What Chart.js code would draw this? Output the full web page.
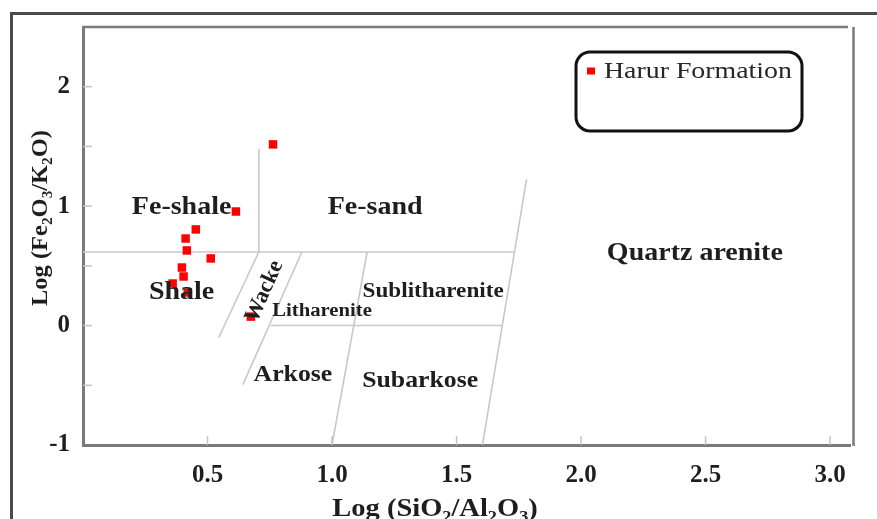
<!DOCTYPE html>
<html>
<head>
<meta charset="utf-8">
<script src="https://cdn.jsdelivr.net/npm/chart.js@4.4.1/dist/chart.umd.min.js"></script>
<style>
html,body{margin:0;padding:0;background:#ffffff;}
#wrap{width:877px;height:519px;position:relative;}
</style>
</head>
<body>
<div id="wrap"><canvas id="c" width="877" height="519"></canvas></div>
<script>
// ---------------- data ----------------
const seriesName = 'Harur Formation';
const sampleX = [0.763, 0.614, 0.453, 0.412, 0.417, 0.513, 0.397, 0.404, 0.360, 0.421, 0.674];
const sampleY = [1.517, 0.955, 0.805, 0.729, 0.629, 0.562, 0.486, 0.411, 0.352, 0.277, 0.075];

const xTickValues = [0.5, 1.0, 1.5, 2.0, 2.5, 3.0];
const xTickLabels = ['0.5', '1.0', '1.5', '2.0', '2.5', '3.0'];
const yTickValues = [-1, -0.5, 0, 0.5, 1, 1.5, 2];
const yTickLabels = ['-1', '', '0', '', '1', '', '2'];

const xTitle = 'Log (SiO₂/Al₂O₃)';
const yTitle = 'Log (Fe₂O₃/K₂O)';

// classification field boundaries (Herron 1988 diagram)
const feLineX = [0.0, 1.733];    const feLineY = [0.616, 0.616];
const feSplitX = [0.706, 0.706]; const feSplitY = [0.616, 1.48];
const quartzX = [1.781, 1.604];  const quartzY = [1.224, -1.0];
const lithX = [1.141, 1.0];      const lithY = [0.616, -1.0];
const zeroX = [0.755, 1.684];    const zeroY = [0.0, 0.0];
const wackeLX = [0.706, 0.545];  const wackeLY = [0.616, -0.10];
const wackeRX = [0.879, 0.642];  const wackeRY = [0.616, -0.495];

const regionNames = ['Fe-shale', 'Fe-sand', 'Quartz arenite', 'Shale', 'Wacke', 'Litharenite', 'Sublitharenite', 'Arkose', 'Subarkose'];
const regionX = [0.396, 1.173, 2.457, 0.396, 0.728, 0.960, 1.406, 0.843, 1.354];
const regionY = [0.985, 0.985, 0.600, 0.275, 0.285, 0.118, 0.280, -0.415, -0.465];

// ---------------- styles ----------------
const SERIF = '"Liberation Serif", "Times New Roman", "DejaVu Serif", serif';
const regionSize = [25, 25, 25, 25, 22.5, 18.5, 20.7, 23, 23];
const regionRot = [0, 0, 0, 0, -66, 0, 0, 0, 0];
const TEXT_STRETCH = 1.12;

const toPts = (xs, ys) => xs.map((v, i) => ({x: v, y: ys[i]}));
const fieldLines = [
  [feLineX, feLineY], [feSplitX, feSplitY], [quartzX, quartzY], [lithX, lithY],
  [zeroX, zeroY], [wackeLX, wackeLY], [wackeRX, wackeRY]
];

const datasets = [{
  label: seriesName,
  data: toPts(sampleX, sampleY),
  pointStyle: 'rect',
  pointRadius: 6,
  pointHoverRadius: 6,
  backgroundColor: '#ff0000',
  borderColor: '#ff0000',
  borderWidth: 0,
  showLine: false
}];
fieldLines.forEach(([xs, ys]) => {
  datasets.push({
    label: '',
    data: toPts(xs, ys),
    showLine: true,
    pointRadius: 0,
    borderColor: '#c8c8c8',
    borderWidth: 1.6,
    fill: false
  });
});

function subSegments(text) {
  const map = {'₀':'0','₁':'1','₂':'2','₃':'3','₄':'4','₅':'5','₆':'6','₇':'7','₈':'8','₉':'9'};
  const segs = [];
  for (const ch of text) {
    const sub = map[ch] !== undefined;
    const c = sub ? map[ch] : ch;
    if (segs.length && segs[segs.length - 1].sub === sub) segs[segs.length - 1].t += c;
    else segs.push({t: c, sub});
  }
  return segs;
}

function drawRich(ctx, text, x, y, size, sx, rot) {
  const segs = subSegments(text);
  const big = 'bold ' + size + 'px ' + SERIF;
  const small = 'bold ' + Math.round(size * 0.62) + 'px ' + SERIF;
  ctx.save();
  ctx.translate(x, y);
  if (rot) ctx.rotate(rot * Math.PI / 180);
  ctx.scale(sx, 1);
  let w = 0;
  segs.forEach(s => { ctx.font = s.sub ? small : big; s.w = ctx.measureText(s.t).width; w += s.w; });
  let cx = -w / 2;
  ctx.fillStyle = '#1e1e1e';
  ctx.textBaseline = 'alphabetic';
  ctx.textAlign = 'left';
  segs.forEach(s => {
    ctx.font = s.sub ? small : big;
    ctx.fillText(s.t, cx, s.sub ? size * 0.22 : 0);
    cx += s.w;
  });
  ctx.restore();
}

function drawText(ctx, text, x, y, font, sx, rot, align) {
  ctx.save();
  ctx.translate(x, y);
  if (rot) ctx.rotate(rot * Math.PI / 180);
  ctx.scale(sx, 1);
  ctx.font = font;
  ctx.textAlign = align || 'center';
  ctx.textBaseline = 'middle';
  ctx.fillText(text, 0, 0);
  ctx.restore();
}

const deco = {
  id: 'deco',
  beforeDraw(chart) {
    const ctx = chart.ctx;
    ctx.save();
    ctx.fillStyle = '#ffffff';
    ctx.fillRect(0, 0, chart.width, chart.height);
    ctx.restore();
  },
  afterDraw(chart) {
    const {ctx, chartArea: a, scales: {x, y}} = chart;
    ctx.save();
    // outer figure frame
    ctx.strokeStyle = '#4a4a4a';
    ctx.lineWidth = 3;
    ctx.beginPath();
    ctx.moveTo(11.5, chart.height + 5);
    ctx.lineTo(11.5, 13.5);
    ctx.lineTo(chart.width + 5, 13.5);
    ctx.stroke();
    // plot frame top and right
    ctx.strokeStyle = '#7a7a7a';
    ctx.lineWidth = 2.5;
    ctx.beginPath();
    ctx.moveTo(a.left, a.top);
    ctx.lineTo(a.right - 2, a.top);
    ctx.stroke();
    ctx.beginPath();
    ctx.moveTo(a.right + 3.5, a.top);
    ctx.lineTo(a.right + 3.5, a.bottom + 1);
    ctx.stroke();
    // inner tick marks
    ctx.strokeStyle = '#c4c4c4';
    ctx.lineWidth = 1.5;
    xTickValues.forEach(v => {
      const px = x.getPixelForValue(v);
      ctx.beginPath(); ctx.moveTo(px, a.bottom); ctx.lineTo(px, a.bottom - 9); ctx.stroke();
    });
    yTickValues.forEach(v => {
      if (v === -1) return;
      const py = y.getPixelForValue(v);
      ctx.beginPath(); ctx.moveTo(a.left, py); ctx.lineTo(a.left + 9, py); ctx.stroke();
    });
    // region labels
    ctx.fillStyle = '#1e1e1e';
    regionNames.forEach((n, i) => {
      drawText(ctx, n, x.getPixelForValue(regionX[i]), y.getPixelForValue(regionY[i]),
        'bold ' + regionSize[i] + 'px ' + SERIF, regionRot[i] ? 1 : TEXT_STRETCH, regionRot[i]);
    });
    // axis titles
    drawRich(ctx, xTitle, 435, 516, 25, 1.14, 0);
    drawRich(ctx, yTitle, 47, 218, 24, 1.02, -90);
    // legend box
    const lx = 576, ly = 52, lw = 226, lh = 79, r = 14;
    ctx.strokeStyle = '#111111';
    ctx.lineWidth = 3;
    ctx.beginPath();
    ctx.moveTo(lx + r, ly);
    ctx.lineTo(lx + lw - r, ly);
    ctx.arcTo(lx + lw, ly, lx + lw, ly + r, r);
    ctx.lineTo(lx + lw, ly + lh - r);
    ctx.arcTo(lx + lw, ly + lh, lx + lw - r, ly + lh, r);
    ctx.lineTo(lx + r, ly + lh);
    ctx.arcTo(lx, ly + lh, lx, ly + lh - r, r);
    ctx.lineTo(lx, ly + r);
    ctx.arcTo(lx, ly, lx + r, ly, r);
    ctx.closePath();
    ctx.stroke();
    const ds = chart.data.datasets[0];
    ctx.fillStyle = ds.backgroundColor;
    ctx.fillRect(587, 67.5, 8, 7);
    ctx.fillStyle = '#262626';
    drawText(ctx, ds.label, 604, 72, '24px ' + SERIF, 1.16, 0, 'left');
    ctx.restore();
  }
};

const tickFont = {family: SERIF, size: 25, weight: 'bold'};

new Chart(document.getElementById('c'), {
  type: 'scatter',
  data: {datasets},
  options: {
    responsive: false,
    animation: false,
    devicePixelRatio: 1,
    layout: {padding: {left: 0, top: 27, right: 27, bottom: 0}},
    plugins: {legend: {display: false}, tooltip: {enabled: false}},
    scales: {
      x: {
        type: 'linear', min: 0, max: 3.08,
        afterBuildTicks: s => { s.ticks = xTickValues.map(v => ({value: v})); },
        afterFit: s => { s.height = 74; },
        grid: {display: false},
        border: {display: true, color: '#7a7a7a', width: 3},
        ticks: {
          font: tickFont, color: '#1e1e1e', padding: 8, maxRotation: 0, autoSkip: false,
          callback: (v, i) => xTickLabels[i]
        },
        title: {display: false}
      },
      y: {
        type: 'linear', min: -1, max: 2.5,
        afterBuildTicks: s => { s.ticks = yTickValues.map(v => ({value: v})); },
        afterFit: s => { s.width = 83; },
        grid: {display: false},
        border: {display: true, color: '#7a7a7a', width: 3},
        ticks: {
          font: tickFont, color: '#1e1e1e', padding: 5, autoSkip: false,
          callback: (v, i) => yTickLabels[i]
        },
        title: {display: false}
      }
    }
  },
  plugins: [deco]
});
</script>
</body>
</html>
